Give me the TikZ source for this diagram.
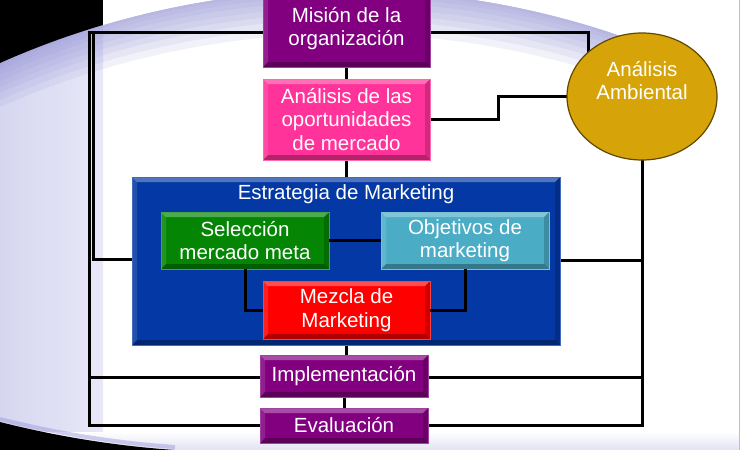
\documentclass[tikz,border=0pt]{standalone}
\usepackage{fontspec}
\setmainfont{Liberation Sans}
\usetikzlibrary{shapes.geometric,calc}
\definecolor{purp}{RGB}{130,0,128}
\definecolor{pinkc}{RGB}{255,51,153}
\definecolor{bluec}{RGB}{4,56,164}
\definecolor{greenc}{RGB}{4,134,4}
\definecolor{tealc}{RGB}{75,172,198}
\definecolor{redc}{RGB}{255,0,0}
\definecolor{goldc}{RGB}{214,163,8}
\definecolor{lav}{RGB}{150,150,216}
\definecolor{lavA}{RGB}{214,214,240}
\definecolor{lavB}{RGB}{232,232,248}
\definecolor{lavlight}{RGB}{226,226,244}
\pgfdeclarelayer{bg}
\pgfdeclarelayer{lines}
\pgfsetlayers{bg,lines,main}
\tikzset{
  declare function={arcy(\t)=839.5-100*sqrt(72.2-((\t-345)/100)^2);},
  txt/.style={text=white, font=\fontsize{20.5}{23.5}\selectfont, align=center},
  bevel/.style={path picture={
    \fill[white,opacity=0.3] (path picture bounding box.north west) -- (path picture bounding box.north east)
      -- ([shift={(-5pt,-5pt)}]path picture bounding box.north east) -- ([shift={(5pt,-5pt)}]path picture bounding box.north west) -- cycle;
    \fill[white,opacity=0.12] (path picture bounding box.north west) -- (path picture bounding box.south west)
      -- ([shift={(5pt,5pt)}]path picture bounding box.south west) -- ([shift={(5pt,-5pt)}]path picture bounding box.north west) -- cycle;
    \fill[black,opacity=0.3] (path picture bounding box.south west) -- (path picture bounding box.south east)
      -- ([shift={(-5pt,5pt)}]path picture bounding box.south east) -- ([shift={(5pt,5pt)}]path picture bounding box.south west) -- cycle;
    \fill[black,opacity=0.18] (path picture bounding box.north east) -- (path picture bounding box.south east)
      -- ([shift={(-5pt,5pt)}]path picture bounding box.south east) -- ([shift={(-5pt,-5pt)}]path picture bounding box.north east) -- cycle;
  }},
  box/.style={txt, rectangle, inner sep=0pt, fill=#1, draw=#1!75!white, line width=0.6pt, bevel},
  conn/.style={line width=3pt, draw=black},
}
\begin{document}
\begin{tikzpicture}[x=1pt,y=-1pt]
\useasboundingbox (0,0) rectangle (740,450);

% ---------------- nodes ----------------
\node[box=purp, minimum width=167pt, minimum height=77pt] (mis) at (346.5,28.5) {Misión de la\\organización};
\node[box=pinkc, minimum width=167pt, minimum height=81pt] (opp) at (346.5,119.5) {Análisis de las\\oportunidades\\de mercado};
\node[box=bluec, minimum width=428pt, minimum height=168pt,
      label={[txt, anchor=north, inner sep=0pt, yshift=-8pt]north:Estrategia de Marketing}] (est) at (346,261) {};
\node[box=greenc, minimum width=168pt, minimum height=57pt] (sel) at (245,240.5) {Selección\\mercado meta};
\node[box=tealc, minimum width=168pt, minimum height=57pt] (obj) at (465,240.5) {Objetivos de\\marketing};
\node[box=redc, minimum width=167pt, minimum height=58pt] (mez) at (346.5,310) {Mezcla de\\Marketing};
\node[box=purp, minimum width=168pt, minimum height=42pt] (imp) at (344,376) {Implementación};
\node[box=purp, minimum width=168pt, minimum height=35pt] (eva) at (344,425.5) {Evaluación};
\node[ellipse, minimum width=150pt, minimum height=127pt, inner sep=0pt, fill=goldc,
      draw={rgb,255:red,96;green,72;blue,0}, line width=1.2pt,
      label={[txt, yshift=16pt]center:Análisis\\Ambiental}] (amb) at (642,96.5) {};

% inner connectors (on top of the strategy box)
\draw[conn] (sel.east) -- (obj.west);
\draw[conn] (sel.south) -- (sel.south |- mez.west) -- (mez.west);
\draw[conn] (obj.south) -- (obj.south |- mez.east) -- (mez.east);

% ---------------- connectors ----------------
\begin{pgfonlayer}{lines}
\coordinate (L1top) at (89,32);
\coordinate (L2top) at (93.5,32);
\coordinate (L2bot) at (93.5,259);
\coordinate (L1bot) at (89,425);
\coordinate (L1imp) at (89,377);
\coordinate (R1) at (588,32);
\coordinate (Rb) at (642,425);
\coordinate (Rblue) at (642,260);
\coordinate (Rimp) at (642,377);
\coordinate (P1) at (498,119);
\coordinate (P2) at (498,96.5);
\draw[conn] (L1top -| mis.west) -- (L1top) -- (L1bot) -- (L1bot -| eva.west);
\draw[conn] (L2top) -- (L2bot) -- (L2bot -| est.west);
\draw[conn] (L1imp) -- (L1imp -| imp.west);
\draw[conn] (R1 -| mis.east) -- (R1) -- (R1 |- amb.center);
\draw[conn] (P1 -| opp.east) -- (P1) -- (P2) -- (amb.center);
\draw[conn] (amb.center) -- (Rb) -- (Rb -| eva.east);
\draw[conn] (Rblue -| est.east) -- (Rblue);
\draw[conn] (Rimp -| imp.east) -- (Rimp);
\draw[conn] (mis.south) -- (opp.north);
\draw[conn] (opp.south) -- (opp.south |- est.north);
\draw[conn] (est.south) -- (est.south |- imp.north);
\draw[conn] (imp.south) -- (eva.north);
\end{pgfonlayer}

% ---------------- background ----------------
\begin{pgfonlayer}{bg}
\fill[white] (0,0) rectangle (740,450);
\shade[left color=lavA, right color=lavB] (0,0) rectangle (103,450);
% halo just inside the big disc
\foreach \w in {44,37,30,24,18,12,7,3}{
  \fill[lav, opacity=0.13] plot[domain=-2:625, samples=60] (\x,{arcy(\x)})
     -- plot[domain=625:-2, samples=60] (\x,{arcy(\x)+\w}) -- cycle;
}
% black corner above the disc
\fill[black] (-1,-1) -- (103,-1) -- plot[domain=103:-1, samples=30] (\x,{arcy(\x)}) -- cycle;
% white area above the disc, right of the strip
\fill[white] (103,-1) -- plot[domain=103:625, samples=60] (\x,{arcy(\x)}) -- (625,-1) -- cycle;
% bottom edge
\shade[top color=white, bottom color=lavlight] (0,432) rectangle (740,450);
\draw[lav, opacity=0.45, line width=4pt] (0,419) .. controls (55,433) and (115,443) .. (175,447);
\fill[black] (0,422) .. controls (55,436) and (115,446) .. (175,450) -- (0,450) -- cycle;
\draw[black!25, line width=1pt] (739.5,0) -- (739.5,450);
\end{pgfonlayer}
\end{tikzpicture}
\end{document}
